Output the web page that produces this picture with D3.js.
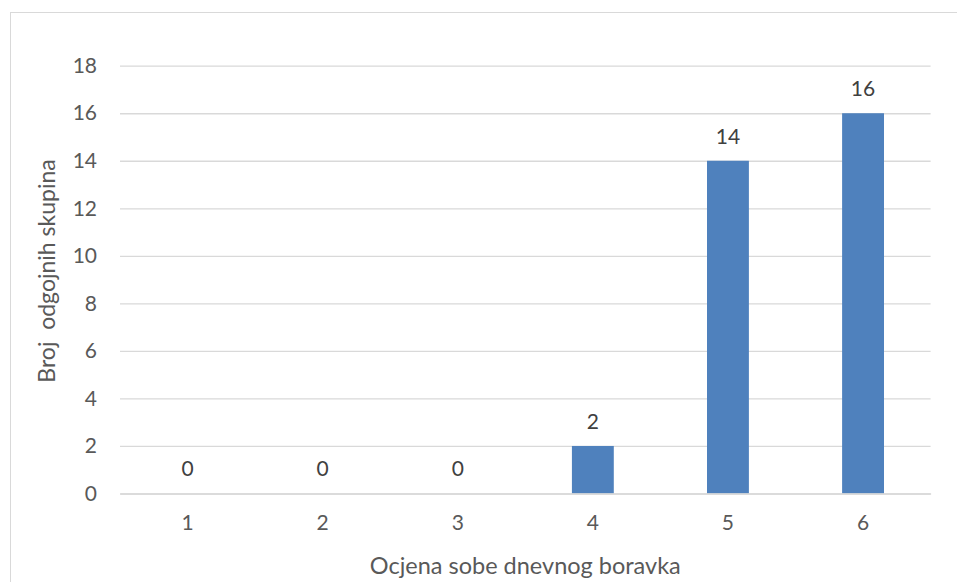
<!DOCTYPE html>
<html>
<head>
<meta charset="utf-8">
<script src="https://cdn.jsdelivr.net/npm/d3@7"></script>
<style>
  body { margin: 0; background: #fff; }
  svg text { font-family: Lato, "Open Sans", sans-serif; fill: #595959; }
</style>
</head>
<body>
<svg id="chart"></svg>
<script>
// chart values
const categories = ['1', '2', '3', '4', '5', '6'];
const counts = [0, 0, 0, 2, 14, 16];
const yTicks = [0, 2, 4, 6, 8, 10, 12, 14, 16, 18];

const width = 957, height = 582;
const margin = {top: 65.7, right: 26.4, bottom: 88.5, left: 120};

const svg = d3.select('#chart')
    .attr('width', width)
    .attr('height', height);

// outer frame, runs past the right and bottom edge
svg.append('rect')
    .attr('x', 10.5)
    .attr('y', 12.5)
    .attr('width', width)
    .attr('height', height)
    .attr('fill', 'none')
    .attr('stroke', '#d9d9d9');

const innerW = width - margin.left - margin.right;
const innerH = height - margin.top - margin.bottom;

const chart = svg.append('g')
    .attr('transform', `translate(${margin.left},${margin.top})`);

const xScale = d3.scaleBand()
    .domain(categories)
    .range([0, innerW])
    .paddingInner(0.69)
    .paddingOuter(0.345);

const yScale = d3.scaleLinear()
    .domain([0, 18])
    .range([innerH, 0]);

// gridlines + y labels
const yAxis = d3.axisLeft(yScale)
    .tickValues(yTicks)
    .tickSize(-innerW)
    .tickPadding(23);

chart.append('g')
    .attr('class', 'axis y-axis')
    .call(yAxis)
    .call(g => g.select('.domain').remove())
    .call(g => g.selectAll('line').attr('stroke', '#d9d9d9').attr('stroke-width', 1.3))
    .call(g => g.selectAll('text').attr('font-size', 21).style('fill', '#595959'));

// bars
chart.selectAll('.bar')
    .data(counts)
    .join('rect')
    .attr('class', 'bar')
    .attr('x', (d, i) => xScale(categories[i]))
    .attr('width', xScale.bandwidth())
    .attr('y', d => yScale(d))
    .attr('height', d => innerH - yScale(d))
    .attr('fill', '#4f81bd');

// x axis
const xAxis = d3.axisBottom(xScale)
    .tickSize(0)
    .tickPadding(22);

chart.append('g')
    .attr('class', 'axis x-axis')
    .attr('transform', `translate(0,${innerH})`)
    .call(xAxis)
    .call(g => g.select('.domain').attr('stroke', '#d9d9d9').attr('stroke-width', 1.3))
    .call(g => g.selectAll('text').attr('font-size', 21).style('fill', '#595959'));

// value labels
chart.selectAll('.label')
    .data(counts)
    .join('text')
    .attr('class', 'label')
    .attr('x', (d, i) => xScale(categories[i]) + xScale.bandwidth() / 2)
    .attr('y', d => yScale(d) - 17)
    .attr('text-anchor', 'middle')
    .attr('font-size', 21)
    .style('fill', '#404040')
    .text(d => d);

// axis titles
svg.append('text')
    .attr('x', margin.left + innerW / 2)
    .attr('y', 574)
    .attr('text-anchor', 'middle')
    .attr('font-size', 23.5)
    .text('Ocjena sobe dnevnog boravka');

svg.append('text')
    .attr('transform', `translate(55,${271}) rotate(-90)`)
    .attr('text-anchor', 'middle')
    .attr('font-size', 23)
    .attr('xml:space', 'preserve')
    .style('white-space', 'pre')
    .text('Broj  odgojnih skupina');
</script>
</body>
</html>
